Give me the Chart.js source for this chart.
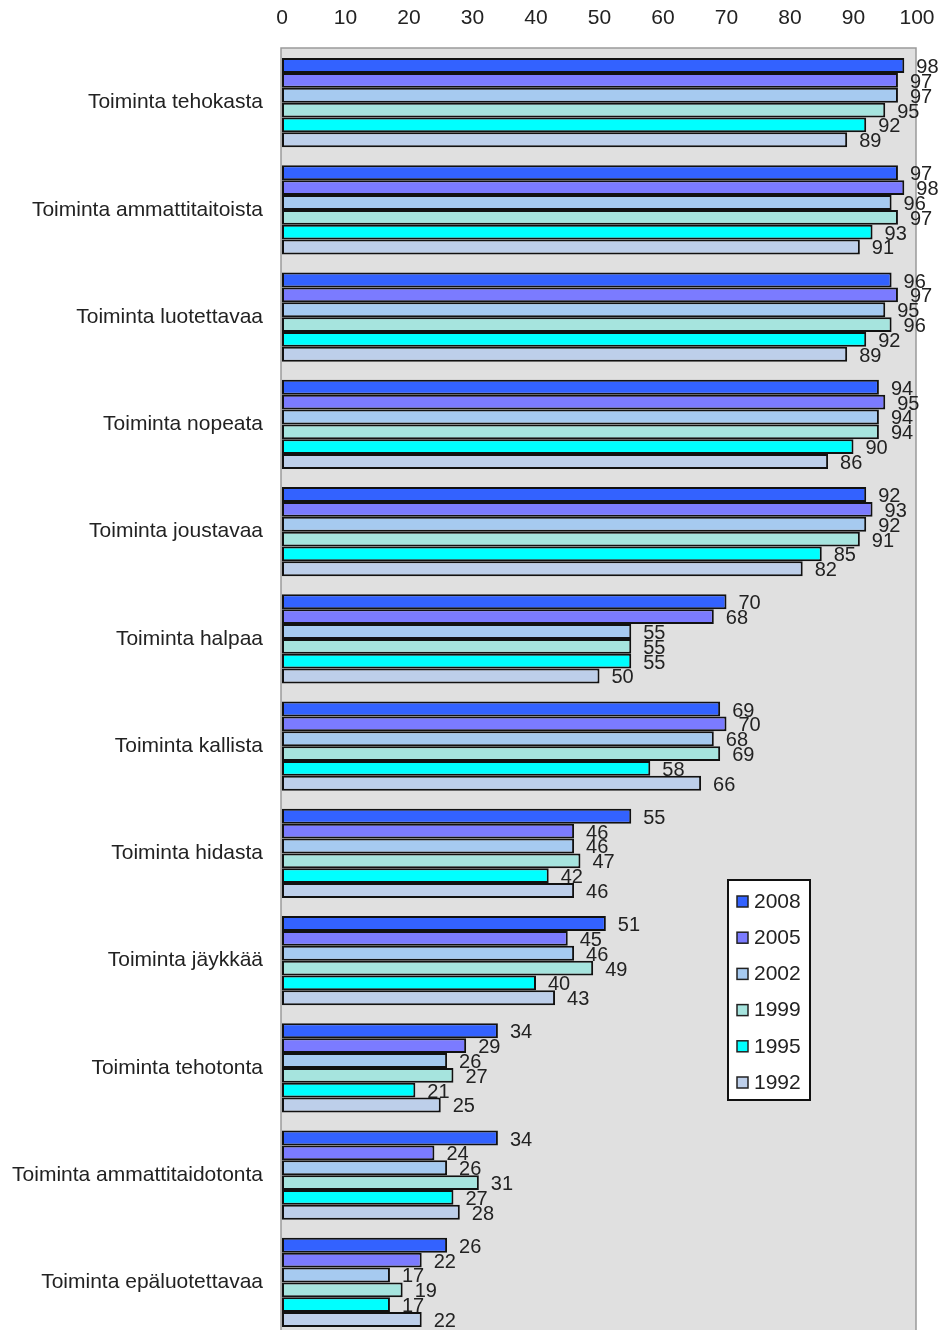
<!DOCTYPE html>
<html>
<head>
<meta charset="utf-8">
<script src="https://cdn.jsdelivr.net/npm/chart.js@4"></script>
<style>
  html, body { margin: 0; padding: 0; background: #ffffff; overflow: hidden; width: 941px; height: 1330px; }
  canvas { display: block; }
</style>
</head>
<body>
<canvas id="c" width="941" height="1340" style="width:941px;height:1340px"></canvas>
<script>
const categories = [
  "Toiminta tehokasta",
  "Toiminta ammattitaitoista",
  "Toiminta luotettavaa",
  "Toiminta nopeata",
  "Toiminta joustavaa",
  "Toiminta halpaa",
  "Toiminta kallista",
  "Toiminta hidasta",
  "Toiminta jäykkää",
  "Toiminta tehotonta",
  "Toiminta ammattitaidotonta",
  "Toiminta epäluotettavaa"
];
const seriesNames = ["2008", "2005", "2002", "1999", "1995", "1992"];
const values2008 = [98, 97, 96, 94, 92, 70, 69, 55, 51, 34, 34, 26];
const values2005 = [97, 98, 97, 95, 93, 68, 70, 46, 45, 29, 24, 22];
const values2002 = [97, 96, 95, 94, 92, 55, 68, 46, 46, 26, 26, 17];
const values1999 = [95, 97, 96, 94, 91, 55, 69, 47, 49, 27, 31, 19];
const values1995 = [92, 93, 92, 90, 85, 55, 58, 42, 40, 21, 27, 17];
const values1992 = [89, 91, 89, 86, 82, 50, 66, 46, 43, 25, 28, 22];
const xTicks = [0, 10, 20, 30, 40, 50, 60, 70, 80, 90, 100];

const seriesValues = [values2008, values2005, values2002, values1999, values1995, values1992];
const colors = ["#3362FF", "#7B7BFF", "#A6CAF0", "#A6E4DE", "#00FFFF", "#BDCFEA"];

const FONT = "'Liberation Sans', Arial, sans-serif";

const plotBg = {
  id: 'plotBg',
  beforeDraw(chart) {
    const { ctx, chartArea: a } = chart;
    ctx.save();
    ctx.fillStyle = '#E0E0E0';
    ctx.fillRect(a.left - 1, a.top - 1, a.right - a.left, a.bottom - a.top + 2);
    ctx.strokeStyle = '#9a9a9a';
    ctx.lineWidth = 1.5;
    ctx.strokeRect(a.left - 1, a.top - 1, a.right - a.left, a.bottom - a.top + 2);
    ctx.restore();
  }
};

const valueLabels = {
  id: 'valueLabels',
  afterDatasetsDraw(chart) {
    const { ctx } = chart;
    ctx.save();
    ctx.font = "20px " + FONT;
    ctx.fillStyle = '#222';
    ctx.textAlign = 'left';
    ctx.textBaseline = 'middle';
    chart.data.datasets.forEach((ds, i) => {
      const meta = chart.getDatasetMeta(i);
      meta.data.forEach((bar, j) => {
        ctx.fillText(String(ds.data[j]), bar.x + 12, bar.y + 2);
      });
    });
    ctx.restore();
  }
};

const boxLegend = {
  id: 'boxLegend',
  afterDraw(chart) {
    const { ctx } = chart;
    const left = 728, top = 880, w = 82, h = 220;
    ctx.save();
    ctx.fillStyle = '#ffffff';
    ctx.fillRect(left, top, w, h);
    ctx.strokeStyle = '#111';
    ctx.lineWidth = 2;
    ctx.strokeRect(left, top, w, h);
    ctx.font = "21px " + FONT;
    ctx.textBaseline = 'middle';
    ctx.textAlign = 'left';
    chart.data.datasets.forEach((ds, i) => {
      const cy = top + 21 + i * 36.2;
      ctx.fillStyle = ds.backgroundColor;
      ctx.fillRect(737, cy - 5, 11, 11);
      ctx.strokeStyle = '#222';
      ctx.lineWidth = 1.5;
      ctx.strokeRect(737, cy - 5, 11, 11);
      ctx.fillStyle = '#222';
      ctx.fillText(ds.label, 754, cy + 1);
    });
    ctx.restore();
  }
};

new Chart(document.getElementById('c'), {
  type: 'bar',
  data: {
    labels: categories,
    datasets: seriesNames.map((name, i) => ({
      label: name,
      data: seriesValues[i],
      backgroundColor: colors[i],
      borderColor: '#111',
      borderWidth: 2,
      borderSkipped: false,
      categoryPercentage: 0.83,
      barPercentage: 1.0
    }))
  },
  options: {
    indexAxis: 'y',
    responsive: false,
    maintainAspectRatio: false,
    devicePixelRatio: 1,
    animation: false,
    layout: { padding: { top: 0, right: 24, bottom: 4, left: 0 } },
    plugins: {
      legend: { display: false },
      tooltip: { enabled: false }
    },
    scales: {
      x: {
        position: 'top',
        min: 0,
        max: 100,
        afterBuildTicks(scale) { scale.ticks = xTicks.map(v => ({ value: v })); },
        grid: { display: false, drawTicks: false },
        border: { display: false },
        ticks: { color: '#222', font: { family: FONT, size: 21 }, padding: 18, maxRotation: 0 },
        afterFit(scale) { scale.height = 49; scale.paddingLeft = 0; scale.paddingRight = 0; }
      },
      y: {
        grid: { display: false, drawTicks: false },
        border: { display: false },
        ticks: { color: '#222', font: { family: FONT, size: 21 }, padding: 19, autoSkip: false },
        afterFit(scale) { scale.width = 282; scale.paddingTop = 0; scale.paddingBottom = 0; }
      }
    }
  },
  plugins: [plotBg, valueLabels, boxLegend]
});
</script>
</body>
</html>
